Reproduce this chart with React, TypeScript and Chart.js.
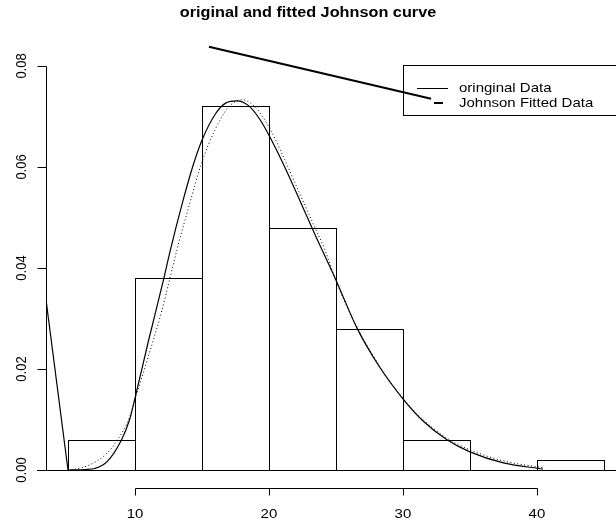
import React, { useEffect, useRef } from 'react';
import { Chart, registerables } from 'chart.js';

Chart.register(...registerables);

// ---- data ----
const binCenters = [7.5, 12.5, 17.5, 22.5, 27.5, 32.5, 37.5, 42.5];
const binDensity = [0.006, 0.038, 0.072, 0.048, 0.028, 0.006, 0, 0.002];

const originalX = [5, 6.3, 7.0, 7.9, 9.0, 9.6, 10.0, 11.0, 12.16, 12.61, 13.5, 14.3, 15.0, 16.0, 16.8, 17.6, 18.5, 19.3, 20.0, 21.0, 22.0, 23.2, 23.96, 25.07, 26.57, 28.28, 30.0, 31.5, 33.28, 35.0, 37.5, 40.45];
const originalY = [0, 0.0001, 0.0003, 0.0016, 0.006, 0.01, 0.0142, 0.0255, 0.038, 0.0432, 0.0525, 0.06, 0.0653, 0.0705, 0.0727, 0.0731, 0.0721, 0.0695, 0.0663, 0.061, 0.0552, 0.048, 0.0436, 0.0372, 0.0281, 0.0203, 0.0141, 0.0097, 0.006, 0.0036, 0.0014, 0.0002];

const johnsonX = [5.0, 5.6, 6.6, 7.9, 8.7, 9.6, 10.0, 11.0, 12.0, 12.61, 13.13, 14.0, 15.0, 16.0, 17.0, 18.0, 19.0, 20.0, 21.0, 22.0, 23.43, 24.18, 25.0, 26.57, 28.28, 30.0, 31.5, 33.28, 35.0, 37.5, 40.6];
const johnsonY = [0, 0.0002, 0.001, 0.0033, 0.006, 0.0105, 0.014, 0.0225, 0.0315, 0.038, 0.0436, 0.052, 0.061, 0.0675, 0.0719, 0.0733, 0.0718, 0.0679, 0.0625, 0.0565, 0.048, 0.0436, 0.0374, 0.0283, 0.0205, 0.0142, 0.01, 0.0063, 0.004, 0.0018, 0.0004];

// stray straight segments present in the original figure
const leftSegX = [2.0, 5.0];
const leftSegY = [0.0617, 0];
const topSegX = [15.52, 32.1];
const topSegY = [0.0838, 0.0735];

const xTicks = [10, 20, 30, 40];
const xTickLabels = ['10', '20', '30', '40'];
const yTicks = [0, 0.02, 0.04, 0.06, 0.08];
const yTickLabels = ['0.00', '0.02', '0.04', '0.06', '0.08'];

const titleText = 'original and fitted Johnson curve';
const legendLabels = ['oringinal Data', 'Johnson Fitted Data'];

const X_MIN = 3.36;
const X_MAX = 45.9;
const Y_MIN = -0.00356;
const Y_MAX = 0.08713;

const FONT = '"Liberation Sans", Arial, Helvetica, sans-serif';
const HIST_INDEX = 4;

const zip = (xs: number[], ys: number[]) => xs.map((x, i) => ({ x, y: ys[i] }));

function stretchedText(ctx: CanvasRenderingContext2D, text: string, x: number, y: number, sx: number, sy: number, rotate = 0) {
  ctx.save();
  ctx.translate(x, y);
  ctx.scale(sx, sy);
  if (rotate) ctx.rotate(rotate);
  ctx.fillText(text, 0, 0);
  ctx.restore();
}

const decorPlugin = {
  id: 'rdecor',
  beforeDatasetsDraw(chart: any) {
    const ctx: CanvasRenderingContext2D = chart.ctx;
    const xs = chart.scales.x;
    const ys = chart.scales.y;
    const area = chart.chartArea;
    ctx.save();
    ctx.strokeStyle = '#000';
    ctx.fillStyle = '#000';
    ctx.lineWidth = 1;

    // baseline at zero
    const y0 = Math.round(ys.getPixelForValue(0)) + 0.5;
    ctx.beginPath();
    ctx.moveTo(area.left - 9, y0);
    ctx.lineTo(area.right, y0);
    ctx.stroke();

    // y axis
    const ax = Math.round(area.left) + 0.5;
    ctx.beginPath();
    ctx.moveTo(ax, Math.round(ys.getPixelForValue(yTicks[0])) + 0.5);
    ctx.lineTo(ax, Math.round(ys.getPixelForValue(yTicks[yTicks.length - 1])) + 0.5);
    yTicks.forEach((v) => {
      const py = Math.round(ys.getPixelForValue(v)) + 0.5;
      ctx.moveTo(ax, py);
      ctx.lineTo(ax - 9, py);
    });
    ctx.stroke();
    ctx.font = `12px ${FONT}`;
    ctx.textAlign = 'center';
    ctx.textBaseline = 'middle';
    yTicks.forEach((v, i) => {
      const py = ys.getPixelForValue(v);
      stretchedText(ctx, yTickLabels[i], 22, py, 1.25, 1.08, -Math.PI / 2);
    });

    // x axis
    const by = Math.round(area.bottom) + 0.5;
    ctx.beginPath();
    ctx.moveTo(Math.round(xs.getPixelForValue(xTicks[0])) + 0.5, by);
    ctx.lineTo(Math.round(xs.getPixelForValue(xTicks[xTicks.length - 1])) + 0.5, by);
    xTicks.forEach((v) => {
      const px = Math.round(xs.getPixelForValue(v)) + 0.5;
      ctx.moveTo(px, by);
      ctx.lineTo(px, by + 7);
    });
    ctx.stroke();
    xTicks.forEach((v, i) => {
      stretchedText(ctx, xTickLabels[i], xs.getPixelForValue(v), 514, 1.25, 1.08);
    });

    // title
    ctx.font = `bold 13px ${FONT}`;
    stretchedText(ctx, titleText, 308, 13, 1.25, 1.08);

    // legend
    ctx.fillStyle = '#fff';
    ctx.fillRect(403.5, 65.5, 230, 50);
    ctx.strokeRect(403.5, 65.5, 230, 50);
    ctx.beginPath();
    ctx.moveTo(417, 88.5);
    ctx.lineTo(448, 88.5);
    ctx.stroke();
    ctx.lineWidth = 2;
    ctx.beginPath();
    ctx.moveTo(434, 103);
    ctx.lineTo(443, 103);
    ctx.stroke();
    ctx.fillStyle = '#000';
    ctx.font = `12px ${FONT}`;
    ctx.textAlign = 'left';
    stretchedText(ctx, legendLabels[0], 459, 88.5, 1.25, 1.08);
    stretchedText(ctx, legendLabels[1], 459, 103, 1.25, 1.08);
    ctx.restore();
  },
  afterDatasetsDraw(chart: any) {
    // crisp R-style outlines for the histogram bars, taken from the bar elements
    const ctx: CanvasRenderingContext2D = chart.ctx;
    const meta = chart.getDatasetMeta(HIST_INDEX);
    ctx.save();
    ctx.strokeStyle = '#000';
    ctx.lineWidth = 1;
    meta.data.forEach((el: any) => {
      const { x, y, base, width } = el.getProps(['x', 'y', 'base', 'width'], true);
      const l = Math.round(x - width / 2) + 0.5;
      const r = Math.round(x + width / 2) + 0.5;
      const t = Math.round(y) + 0.5;
      const b = Math.round(base) + 0.5;
      ctx.strokeRect(l, t, r - l, b - t);
    });
    ctx.restore();
  },
};

export default function App() {
  const canvasRef = useRef<HTMLCanvasElement | null>(null);

  useEffect(() => {
    document.body.style.margin = '0';
    const canvas = canvasRef.current;
    if (!canvas) return;
    const chart = new Chart(canvas, {
      type: 'bar',
      data: {
        datasets: [
          {
            type: 'scatter',
            label: 'top segment',
            data: zip(topSegX, topSegY),
            showLine: true,
            borderColor: '#000',
            borderWidth: 2,
            pointRadius: 0,
            tension: 0,
          } as any,
          {
            type: 'scatter',
            label: 'left segment',
            data: zip(leftSegX, leftSegY),
            showLine: true,
            borderColor: '#000',
            borderWidth: 1.2,
            pointRadius: 0,
            tension: 0,
          } as any,
          {
            type: 'scatter',
            label: legendLabels[0],
            data: zip(originalX, originalY),
            showLine: true,
            borderColor: '#000',
            borderWidth: 1.2,
            pointRadius: 0,
            cubicInterpolationMode: 'monotone',
          } as any,
          {
            type: 'scatter',
            label: legendLabels[1],
            data: zip(johnsonX, johnsonY),
            showLine: true,
            borderColor: '#000',
            borderWidth: 1,
            borderDash: [1, 2.5],
            pointRadius: 0,
            cubicInterpolationMode: 'monotone',
          } as any,
          {
            type: 'bar',
            label: 'histogram',
            data: zip(binCenters, binDensity),
            backgroundColor: 'rgba(0,0,0,0)',
            borderColor: '#000',
            borderWidth: 0,
            barPercentage: 1,
            categoryPercentage: 1,
          } as any,
        ],
      },
      options: {
        animation: false,
        responsive: false,
        devicePixelRatio: 1,
        layout: { padding: { left: 46, right: 0, top: 30, bottom: 35 } },
        plugins: {
          legend: { display: false },
          tooltip: { enabled: false },
          title: { display: false },
        },
        scales: {
          x: { type: 'linear', offset: false, min: X_MIN, max: X_MAX, display: false },
          y: { type: 'linear', min: Y_MIN, max: Y_MAX, display: false },
        },
      },
      plugins: [decorPlugin],
    });
    return () => chart.destroy();
  }, []);

  return (
    <div style={{ position: 'absolute', left: 0, top: 0, width: 616, height: 523, background: '#fff' }}>
      <canvas ref={canvasRef} width={616} height={523} />
    </div>
  );
}
